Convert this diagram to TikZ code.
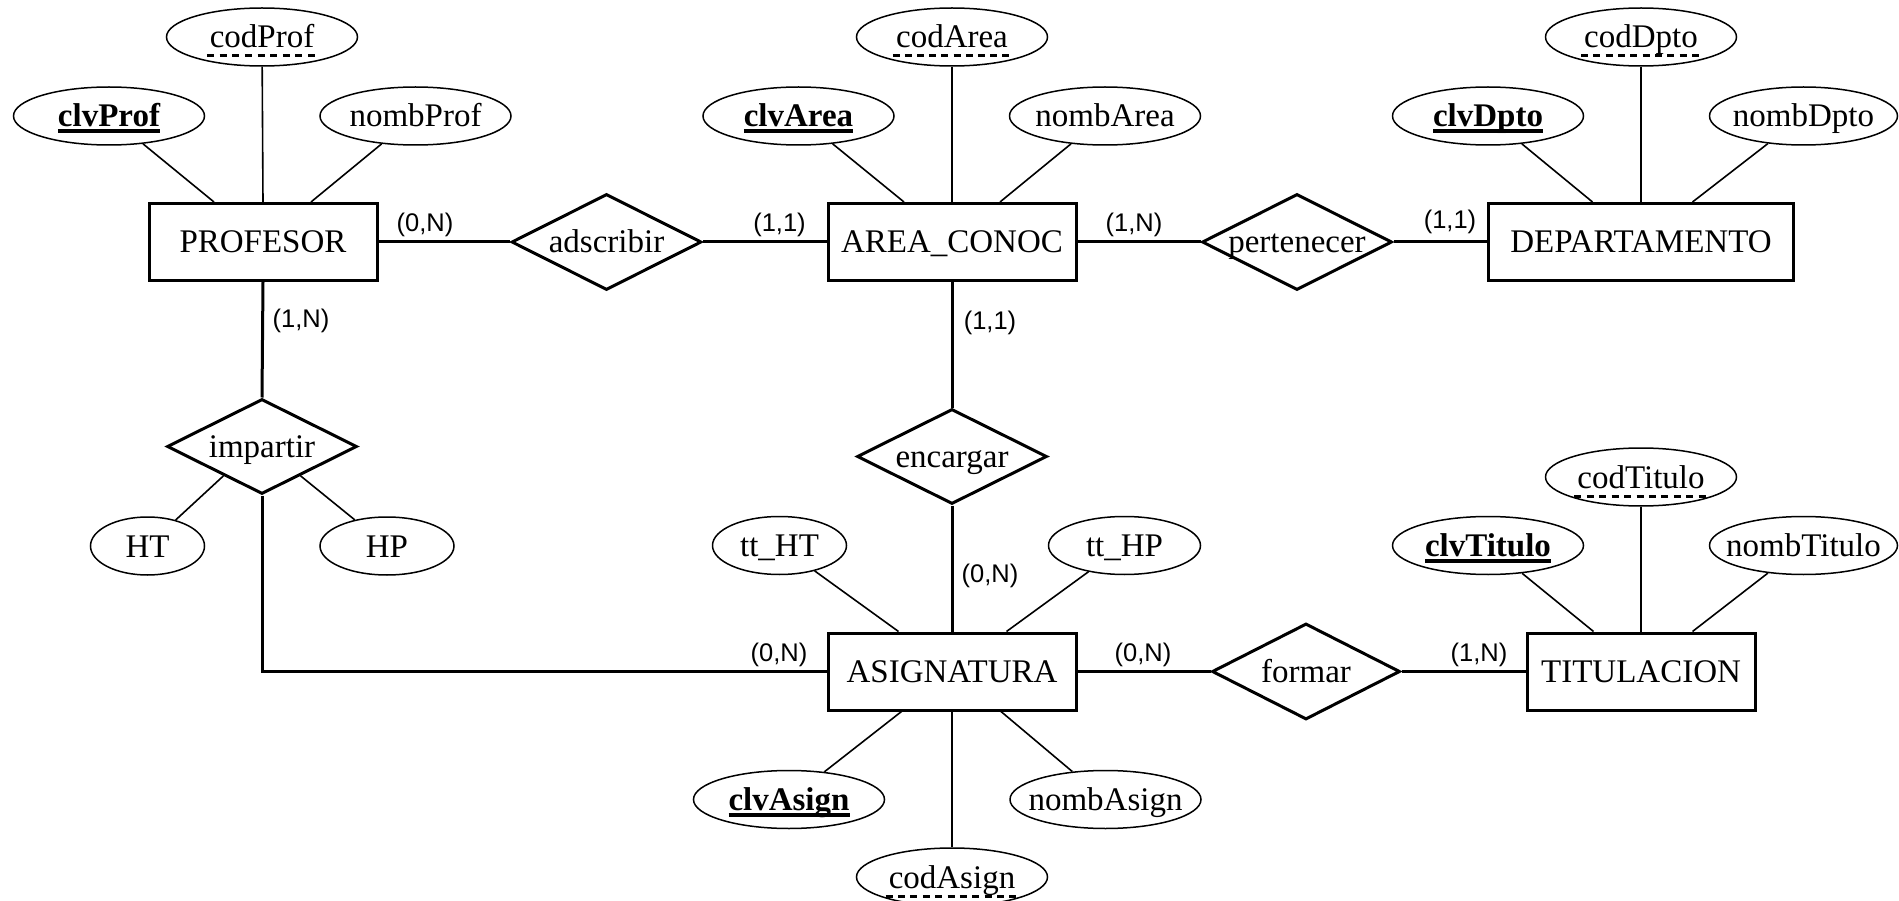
\documentclass[tikz,border=0pt]{standalone}
\usepackage{fontspec}
\setmainfont{Liberation Serif}
\newfontfamily\cardfont{Liberation Sans}
\usetikzlibrary{shapes.geometric,calc}
\newcommand{\mainsz}{\fontsize{33}{36}\selectfont}
\newcommand{\cardsz}{\cardfont\fontsize{25.5}{28}\selectfont}
\newcommand{\zw}[1]{\makebox[0pt]{#1}}
\newsavebox\ulbox
\newcommand{\kkey}[1]{\sbox\ulbox{\bfseries #1}\rlap{\smash{\rule[-6.5pt]{\wd\ulbox}{4pt}}}\usebox\ulbox}
\newcommand{\pkey}[1]{\sbox\ulbox{#1}\rlap{\smash{\hspace*{-6pt}\raisebox{-9.5pt}{\hbox to \dimexpr\wd\ulbox+10pt\relax{\xleaders\hbox to 12pt{\hss\rule{7pt}{3pt}\hss}\hfill}}}}\usebox\ulbox}
\tikzset{
 entity/.style={draw, rectangle, line width=3pt, minimum width=228pt, minimum height=77pt, inner sep=0pt, text height=22pt, text depth=0pt, font=\mainsz},
 relship/.style={draw, diamond, line width=3pt, minimum width=190pt, minimum height=96pt, inner sep=0pt, text height=22pt, text depth=0pt, font=\mainsz},
 attrib/.style={draw, ellipse, line width=1.5pt, minimum width=191pt, minimum height=58pt, inner sep=0pt, text height=22pt, text depth=0pt, font=\mainsz},
 conn/.style={line width=3pt},
 attrline/.style={line width=1.6pt},
 card/.style={font=\cardsz, inner sep=0pt},
}
\begin{document}
\begin{tikzpicture}[x=1pt,y=-1pt]
\useasboundingbox (0,0) rectangle (1899,901);
% entities
\node[entity] (prof) at (263,242) {PROFESOR};
\node[entity, minimum width=248pt] (area) at (952,242) {AREA\_CONOC};
\node[entity, minimum width=305pt] (dpto) at (1641,242) {DEPARTAMENTO};
\node[entity, minimum width=248pt] (asig) at (952,671.5) {ASIGNATURA};
\node[entity] (tit) at (1641,671.5) {TITULACION};
% relationships
\node[relship] (adsc) at (606.5,242) {\zw{adscribir}};
\node[relship] (pert) at (1297,242) {\zw{pertenecer}};
\node[relship, minimum height=95pt] (imp) at (262,446.5) {\zw{impartir}};
\node[relship, minimum height=95pt] (enc) at (952,456.5) {\zw{encargar}};
\node[relship, minimum width=188pt] (form) at (1306,671.5) {\zw{formar}};
% attributes
\node[attrib] (codProf) at (262,37) {\zw{\pkey{codProf}}};
\node[attrib] (clvProf) at (109,116) {\zw{\kkey{clvProf}}};
\node[attrib] (nombProf) at (415.5,116) {\zw{nombProf}};
\node[attrib] (codArea) at (952,37) {\zw{\pkey{codArea}}};
\node[attrib] (clvArea) at (798.5,116) {\zw{\kkey{clvArea}}};
\node[attrib] (nombArea) at (1105,116) {\zw{nombArea}};
\node[attrib] (codDpto) at (1641,37) {\zw{\pkey{codDpto}}};
\node[attrib] (clvDpto) at (1488,116) {\zw{\kkey{clvDpto}}};
\node[attrib, minimum width=188pt] (nombDpto) at (1803.5,116) {\zw{nombDpto}};
\node[attrib, minimum width=114pt] (HT) at (147.5,546) {\zw{HT}};
\node[attrib, minimum width=134pt] (HP) at (387,546) {\zw{HP}};
\node[attrib, minimum width=134pt] (ttHT) at (779.5,545.5) {\zw{tt\_HT}};
\node[attrib, minimum width=152pt] (ttHP) at (1124.5,545.5) {\zw{tt\_HP}};
\node[attrib] (clvAsign) at (789,799.5) {\zw{\kkey{clvAsign}}};
\node[attrib] (nombAsign) at (1105.5,799.5) {\zw{nombAsign}};
\node[attrib] (codAsign) at (952,877) {\zw{\pkey{codAsign}}};
\node[attrib] (codTitulo) at (1641,477) {\zw{\pkey{codTitulo}}};
\node[attrib] (clvTitulo) at (1488,545.5) {\zw{\kkey{clvTitulo}}};
\node[attrib, minimum width=188pt] (nombTitulo) at (1803.5,545.5) {\zw{nombTitulo}};
% attribute lines
\draw[attrline] (clvProf) -- ([xshift=-49pt]prof.north);
\draw[attrline] (codProf) -- (prof.north);
\draw[attrline] (nombProf) -- ([xshift=48pt]prof.north);
\draw[attrline] (clvArea) -- ([xshift=-48pt]area.north);
\draw[attrline] (codArea) -- (area.north);
\draw[attrline] (nombArea) -- ([xshift=48pt]area.north);
\draw[attrline] (clvDpto) -- ([xshift=-48.5pt]dpto.north);
\draw[attrline] (codDpto) -- (dpto.north);
\draw[attrline] (nombDpto) -- ([xshift=51.5pt]dpto.north);
\draw[attrline] (ttHT) -- ([xshift=-53.5pt]asig.north);
\draw[attrline] (ttHP) -- ([xshift=54.5pt]asig.north);
\draw[attrline] (clvAsign) -- ([xshift=-50.5pt]asig.south);
\draw[attrline] (codAsign) -- (asig.south);
\draw[attrline] (nombAsign) -- ([xshift=49pt]asig.south);
\draw[attrline] (clvTitulo) -- ([xshift=-47.5pt]tit.north);
\draw[attrline] (codTitulo) -- (tit.north);
\draw[attrline] (nombTitulo) -- ([xshift=51.5pt]tit.north);
\draw[attrline] (HT) -- ($(imp.west)!0.6!(imp.south)$);
\draw[attrline] (HP) -- ($(imp.south)!0.4!(imp.east)$);
% relationship connectors
\draw[conn] (prof.east) -- (adsc.west);
\draw[conn] (adsc.east) -- (area.west);
\draw[conn] (area.east) -- (pert.west);
\draw[conn] (pert.east) -- (dpto.west);
\draw[conn] (prof.south) -- (imp.north);
\draw[conn] (imp.south) |- (asig.west);
\draw[conn] (area.south) -- (enc.north);
\draw[conn] (enc.south) -- (asig.north);
\draw[conn] (asig.east) -- (form.west);
\draw[conn] (form.east) -- (tit.west);
% cardinalities
\node[card] (c1) at (425,225) {(0,N)};
\node[card] (c2) at (779.5,225) {(1,1)};
\node[card] (c3) at (1134,225) {(1,N)};
\node[card] (c4) at (1450,222) {(1,1)};
\node[card] (c5) at (301,321) {(1,N)};
\node[card] (c6) at (779,655) {(0,N)};
\node[card] (c7) at (990,323) {(1,1)};
\node[card] (c8) at (990,576) {(0,N)};
\node[card] (c9) at (1143,655) {(0,N)};
\node[card] (c10) at (1479,655) {(1,N)};
\end{tikzpicture}
\end{document}
